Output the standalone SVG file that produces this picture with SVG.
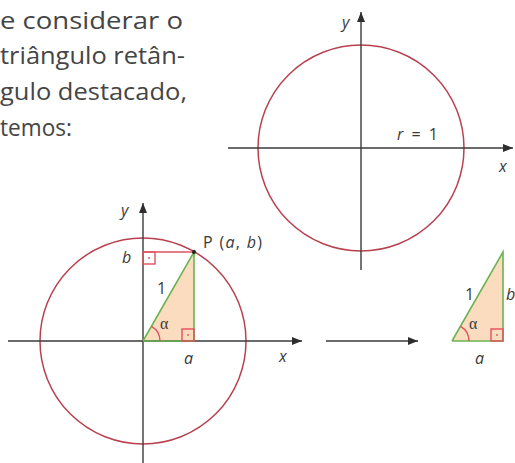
<svg xmlns="http://www.w3.org/2000/svg" width="515" height="463" viewBox="0 0 515 463">
<style>
.para{font-family:"Open Sans","Liberation Sans",sans-serif;font-size:23px;fill:#454545}
.lbl{font-family:"Open Sans","Liberation Sans",sans-serif;font-size:16px;fill:#3a3a3a}
.it{font-style:italic}
.greek{font-family:"Liberation Serif","DejaVu Serif",serif;font-size:16px;fill:#3a3a3a}
.axis{stroke:#3a3a3a;stroke-width:1.4;fill:none}
.circ{stroke:#b8414f;stroke-width:1.5;fill:none}
.green{stroke:#6ab452;stroke-width:1.6;fill:none}
.red{stroke:#e0505e;stroke-width:1.4;fill:none}
.tri{fill:#fcdcbf;stroke:none}
</style>
<defs>
<marker id="ah" viewBox="0 0 10 8" refX="10" refY="4" markerWidth="10" markerHeight="8" markerUnits="userSpaceOnUse" orient="auto">
<path d="M0,0 L10,4 L0,8 Z" fill="#2e2e2e"/>
</marker>
</defs>
<g id="paragraph">
<text class="para" x="0" y="29" textLength="183" lengthAdjust="spacingAndGlyphs">e considerar o</text>
<text class="para" x="0" y="64" textLength="185" lengthAdjust="spacingAndGlyphs">triângulo retân-</text>
<text class="para" x="0" y="100" textLength="187" lengthAdjust="spacingAndGlyphs">gulo destacado,</text>
<text class="para" x="0" y="136" textLength="72" lengthAdjust="spacingAndGlyphs">temos:</text>
</g>
<g id="unit-circle-top">
<circle class="circ" cx="361" cy="148" r="103"/>
<line class="axis" x1="361" y1="270" x2="361" y2="12" marker-end="url(#ah)"/>
<line class="axis" x1="228" y1="148" x2="513" y2="148" marker-end="url(#ah)"/>
<text class="lbl it" x="342" y="28">y</text>
<text class="lbl" x="397" y="140" textLength="41"><tspan class="it">r</tspan> = 1</text>
<text class="lbl it" x="499" y="172">x</text>
</g>
<g id="unit-circle-bottom">
<circle class="circ" cx="143" cy="341" r="103"/>
<polygon class="tri" points="143,341 194,341 194,252"/>
<line class="axis" x1="143" y1="463" x2="143" y2="203" marker-end="url(#ah)"/>
<line class="axis" x1="8" y1="341" x2="302" y2="341" marker-end="url(#ah)"/>
<line class="red" x1="143" y1="252" x2="194" y2="252"/>
<rect class="red" x="143" y="252" width="12" height="12"/>
<circle cx="149" cy="258" r="0.9" fill="#e0505e"/>
<polyline class="green" points="143,341 194,341 194,252 143,341"/>
<rect class="red" x="182" y="329" width="12" height="12"/>
<circle cx="188" cy="335" r="0.9" fill="#e0505e"/>
<path class="red" d="M160,341 A17,17 0 0 0 151.5,326.3"/>
<circle cx="194" cy="252" r="2" fill="#222"/>
<text class="lbl it" x="121" y="216">y</text>
<text class="lbl it" x="122" y="263">b</text>
<text class="lbl" x="203" y="248" textLength="59">P (<tspan class="it">a</tspan>, <tspan class="it">b</tspan>)</text>
<text class="lbl" x="157" y="294">1</text>
<text class="greek" x="160" y="329">α</text>
<text class="lbl it" x="184" y="364">a</text>
<text class="lbl it" x="279" y="362">x</text>
</g>
<g id="connectors">
<line class="axis" x1="326" y1="341" x2="418" y2="341" marker-end="url(#ah)"/>
</g>
<g id="triangle-right">
<polygon class="tri" points="452,341 503,341 503,252"/>
<polyline class="green" points="452,341 503,341 503,252 452,341"/>
<rect class="red" x="491" y="329" width="12" height="12"/>
<circle cx="497" cy="335" r="0.9" fill="#e0505e"/>
<path class="red" d="M469,341 A17,17 0 0 0 460.5,326.3"/>
<text class="lbl" x="465" y="300">1</text>
<text class="lbl it" x="506" y="300">b</text>
<text class="greek" x="469" y="329">α</text>
<text class="lbl it" x="475" y="364">a</text>
</g>
</svg>
